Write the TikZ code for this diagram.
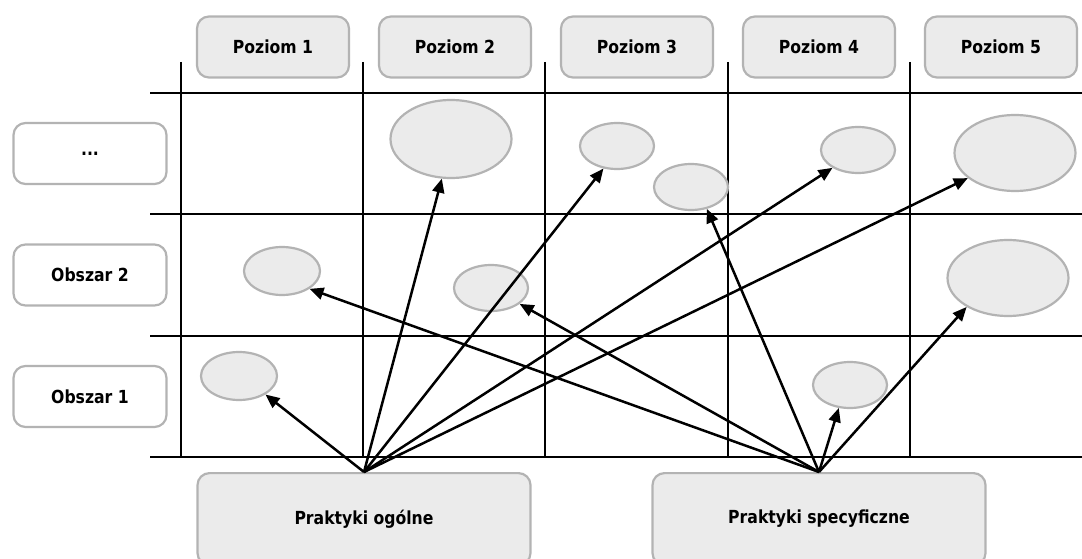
\documentclass[tikz,border=0pt]{standalone}
\usepackage{fontspec}
\newfontfamily\lbl[FakeStretch=0.87]{DejaVu Sans}
\usetikzlibrary{arrows.meta,shapes.geometric}
\definecolor{boxfill}{HTML}{EBEBEB}
\definecolor{boxline}{HTML}{B3B3B3}
\tikzset{
  grid/.style={line width=2.8pt,black},
  lbox/.style={draw=boxline,line width=2.2pt,rounded corners=12pt,fill=boxfill,
     font=\lbl\bfseries\fontsize{18}{21}\selectfont,inner sep=0pt},
  hbox/.style={lbox,minimum width=152pt,minimum height=61pt},
  vbox/.style={lbox,fill=white,minimum width=153pt,minimum height=61pt},
  pbox/.style={lbox,minimum width=333pt,minimum height=92pt,anchor=north},
  blob/.style={ellipse,draw=boxline,line width=2.2pt,fill=boxfill,inner sep=0pt},
  arr/.style={line width=2.5pt,-{Triangle[length=14pt,width=12pt]}}
}
\begin{document}
\begin{tikzpicture}[x=1pt,y=-1pt]
\useasboundingbox (0,0) rectangle (1082,559);
% grid
\foreach \yy in {93,214,336,457} \draw[grid] (150,\yy) -- (1082,\yy);
\foreach \xx in {181,363,545,728,910} \draw[grid] (\xx,62) -- (\xx,457);
% header boxes
\node[hbox] (p1) at (273,47) {Poziom 1};
\node[hbox] (p2) at (455,47) {Poziom 2};
\node[hbox] (p3) at (637,47) {Poziom 3};
\node[hbox] (p4) at (819,47) {Poziom 4};
\node[hbox] (p5) at (1001,47) {Poziom 5};
% row boxes
\node[vbox] (o3) at (90,153.5) {...};
\node[vbox] (o2) at (90,275) {Obszar 2};
\node[vbox] (o1) at (90,396.5) {Obszar 1};
% ellipses
\node[blob,minimum width=121pt,minimum height=78pt] (e1) at (451,139) {};
\node[blob,minimum width=74pt,minimum height=46pt] (e2) at (617,146) {};
\node[blob,minimum width=74pt,minimum height=46pt] (e3) at (691,187) {};
\node[blob,minimum width=74pt,minimum height=46pt] (e4) at (858,150) {};
\node[blob,minimum width=121pt,minimum height=76pt] (e5) at (1015,153) {};
\node[blob,minimum width=76pt,minimum height=48pt] (e6) at (282,271) {};
\node[blob,minimum width=74pt,minimum height=46pt] (e7) at (491,288) {};
\node[blob,minimum width=121pt,minimum height=76pt] (e8) at (1008,278) {};
\node[blob,minimum width=76pt,minimum height=48pt] (e9) at (239,376) {};
\node[blob,minimum width=74pt,minimum height=46pt] (e10) at (850,385) {};
% bottom boxes
\node[pbox] (gen) at (364,472) {Praktyki ogólne};
\node[pbox] (spec) at (819,472) {Praktyki specyficzne};
% arrows
\draw[arr] (gen.north) -- (e9.-35);
\draw[arr] (gen.north) -- (e1.-103);
\draw[arr] (gen.north) -- (e2.-121);
\draw[arr] (gen.north) -- (e4.-145);
\draw[arr] (gen.north) -- (e5.-152);
\draw[arr] (spec.north) -- (e6.-33);
\draw[arr] (spec.north) -- (e7.-29);
\draw[arr] (spec.north) -- (e3.-54);
\draw[arr] (spec.north) -- (e10.-116);
\draw[arr] (spec.north) -- (e8.-145);
\end{tikzpicture}
\end{document}
